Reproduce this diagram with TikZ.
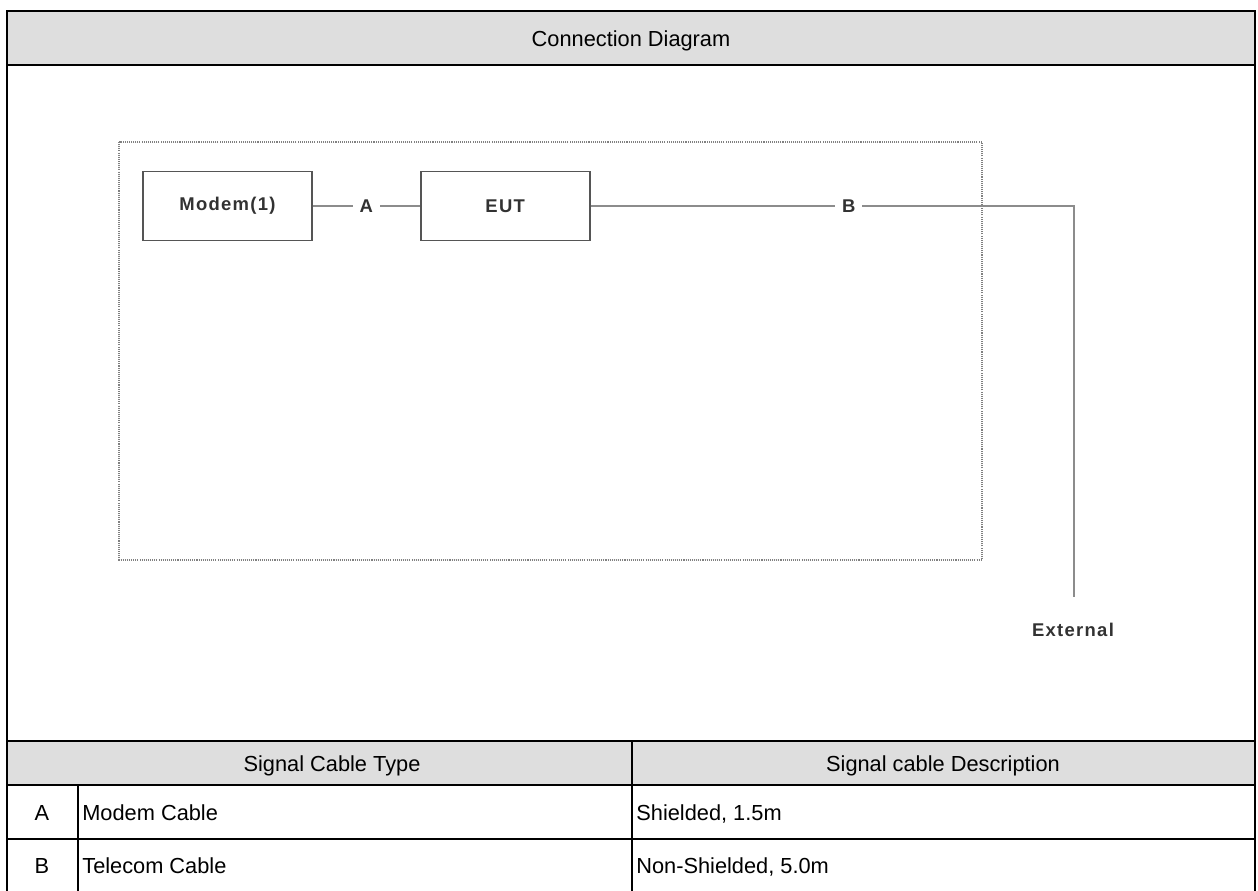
\documentclass[tikz,border=0pt]{standalone}
\usepackage{fontspec}
\setmainfont{Liberation Sans}
\newfontfamily\diagfont[LetterSpace=7]{Liberation Sans}
\usepackage{xcolor}
\definecolor{hdrgray}{RGB}{222,222,222}
\definecolor{wiregray}{RGB}{140,140,140}
\definecolor{boxgray}{RGB}{85,85,85}
\definecolor{txtgray}{RGB}{50,50,50}
\usetikzlibrary{positioning}

\tikzset{
  tblline/.style={line width=1.4pt, black},
  celltxt/.style={font=\fontsize{12.4}{14}\selectfont, inner sep=0pt, anchor=mid, yshift=-2pt},
  leftcell/.style={celltxt, anchor=mid west},
  devbox/.style={draw=boxgray, line width=1pt, minimum width=3.38cm, minimum height=1.38cm,
    font=\diagfont\bfseries\fontsize{10.5}{12}\selectfont, text=txtgray},
  devlbl/.style={font=\diagfont\bfseries\fontsize{10.5}{12}\selectfont, text=txtgray},
  wire/.style={draw=wiregray, line width=1pt},
  cablelbl/.style={fill=white, inner sep=4pt, font=\diagfont\bfseries\fontsize{10.5}{12}\selectfont, text=txtgray},
  testarea/.style={draw=gray, line width=0.8pt, dash pattern=on 0.6pt off 0.6pt}
}

\begin{document}
\begin{tikzpicture}[x=0.02cm, y=-0.02cm]
  \useasboundingbox (0,0) rectangle (1258,891);

  % Header bands
  \fill[hdrgray] (7,11) rectangle (1255,65);
  \fill[hdrgray] (7,741) rectangle (1255,785);

  % Table rules
  \draw[tblline] (7,891) -- (7,11) -- (1255,11) -- (1255,891);
  \draw[tblline] (7,65) -- (1255,65);
  \draw[tblline] (7,741) -- (1255,741);
  \draw[tblline] (7,785) -- (1255,785);
  \draw[tblline] (7,839) -- (1255,839);
  \draw[tblline] (632,741) -- (632,891);
  \draw[tblline] (78,785) -- (78,891);

  % --- Title ---
  \node[celltxt] (title) at (631,38) {Connection Diagram};

  % --- Test setup ---
  \draw[testarea] (119,142) rectangle (982,560);
  \node[devbox] (modem) at (227.5,206) {Modem(1)};
  \node[devbox, right=2.14cm of modem] (eut) {EUT};
  \coordinate (bend) at (1074,206);
  \coordinate (extend) at (1074,597);
  \node[devlbl] (ext) at (1073,630) {External};
  \draw[wire] (modem) -- node[cablelbl] (lblA) {A} (eut);
  \draw[wire] (eut) -- node[cablelbl, pos=0.534] (lblB) {B} (bend) -- (extend);

  % --- Cable table ---
  \node[celltxt] (typehdr) at (332,763) {Signal Cable Type};
  \node[celltxt] (deschdr) at (943,763) {Signal cable Description};
  \node[celltxt] (keyA) at (42,812) {A};
  \node[leftcell] (typeA) at (82,812) {Modem Cable};
  \node[leftcell] (descA) at (636,812) {Shielded, 1.5m};
  \node[celltxt] (keyB) at (42,865) {B};
  \node[leftcell] (typeB) at (82,865) {Telecom Cable};
  \node[leftcell] (descB) at (636,865) {Non-Shielded, 5.0m};
\end{tikzpicture}
\end{document}
